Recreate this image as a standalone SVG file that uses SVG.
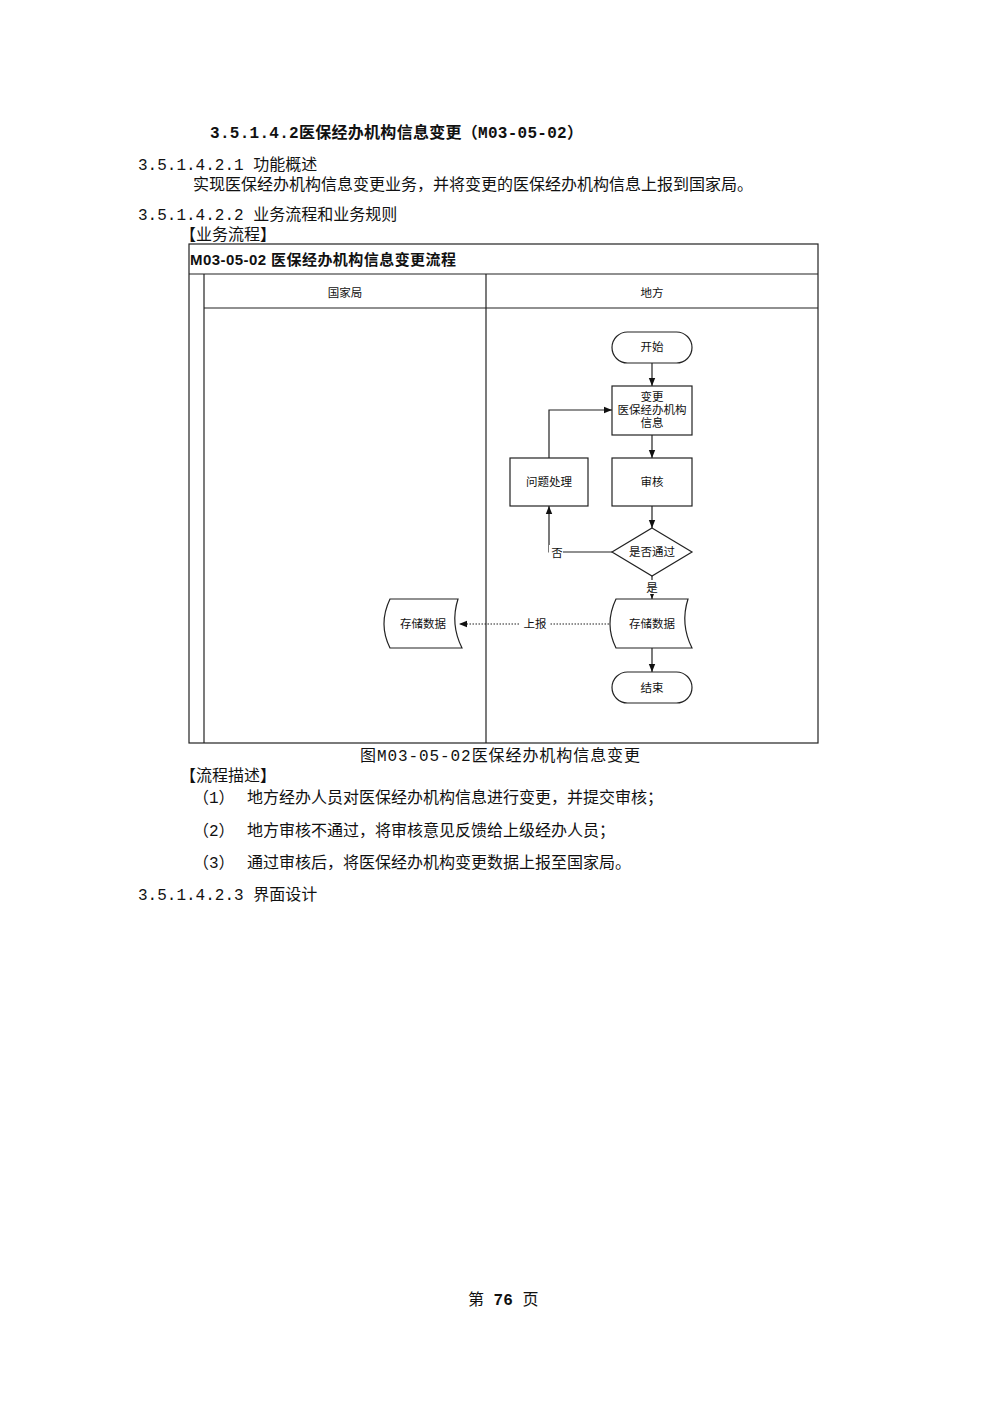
<svg xmlns="http://www.w3.org/2000/svg" width="1000" height="1415" viewBox="0 0 1000 1415">
<defs>
<style>
.t{font-family:"Liberation Mono","Noto Sans CJK SC",monospace;font-size:16px;fill:#111}
.d{font-family:"Liberation Sans","Noto Sans CJK SC",sans-serif;font-size:11.5px;fill:#111;text-anchor:middle}
.s{fill:#fff;stroke:#222;stroke-width:1.2}
.l{fill:none;stroke:#222;stroke-width:1.2}
</style>
<marker id="a" viewBox="0 0 10 10" refX="10" refY="5" markerWidth="7" markerHeight="7" orient="auto"><path d="M0,1 L10,5 L0,9 z" fill="#111"/></marker>
</defs>
<rect width="1000" height="1415" fill="#fff"/>
<text class="t" x="210" y="138" font-weight="bold" textLength="373">3.5.1.4.2医保经办机构信息变更（M03-05-02）</text>
<text class="t" x="138" y="170">3.5.1.4.2.1 功能概述</text>
<text class="t" x="193" y="190">实现医保经办机构信息变更业务，并将变更的医保经办机构信息上报到国家局。</text>
<text class="t" x="138" y="220">3.5.1.4.2.2 业务流程和业务规则</text>
<text class="t" x="180" y="240">【业务流程】</text>
<g id="frame">
<rect x="189" y="244" width="629" height="499" fill="none" stroke="#222" stroke-width="1.2"/>
<line x1="189" y1="274" x2="818" y2="274" stroke="#222" stroke-width="1.2"/>
<line x1="204" y1="308" x2="818" y2="308" stroke="#222" stroke-width="1.2"/>
<line x1="204" y1="274" x2="204" y2="743" stroke="#222" stroke-width="1.2"/>
<line x1="486" y1="274" x2="486" y2="743" stroke="#222" stroke-width="1.2"/>
<text x="190" y="265" font-family="Liberation Sans,'Noto Sans CJK SC',sans-serif" font-size="15" font-weight="bold" fill="#111" textLength="266">M03-05-02 医保经办机构信息变更流程</text>
<text class="d" x="345" y="297" font-size="13">国家局</text>
<text class="d" x="652" y="297" font-size="13">地方</text>
</g>
<g id="connectors">
<line class="l" x1="652" y1="363" x2="652" y2="386" marker-end="url(#a)"/>
<line class="l" x1="652" y1="435" x2="652" y2="458" marker-end="url(#a)"/>
<line class="l" x1="652" y1="506" x2="652" y2="528" marker-end="url(#a)"/>
<polyline class="l" points="612,552 549,552 549,506" marker-end="url(#a)"/>
<polyline class="l" points="549,458 549,410 612,410" marker-end="url(#a)"/>
<line class="l" x1="652" y1="576" x2="652" y2="599" marker-end="url(#a)"/>
<line class="l" x1="652" y1="648" x2="652" y2="672" marker-end="url(#a)"/>
<line class="l" x1="612" y1="624" x2="459" y2="624" stroke-dasharray="1.5,1.5" marker-end="url(#a)"/>
<rect x="520" y="616" width="30" height="15" fill="#fff"/>
<text class="d" x="535" y="628">上报</text>
<rect x="549" y="545" width="14" height="14" fill="#fff"/>
<text class="d" x="557" y="557">否</text>
<rect x="645" y="580" width="14" height="14" fill="#fff"/>
<text class="d" x="652" y="592">是</text>
</g>
<g id="start"><rect class="s" x="612" y="332" width="80" height="31" rx="15.5"/><text class="d" x="652" y="351">开始</text></g>
<g id="change"><rect class="s" x="612" y="386" width="80" height="49"/><text class="d" x="652" y="401">变更</text><text class="d" x="652" y="414">医保经办机构</text><text class="d" x="652" y="427">信息</text></g>
<g id="audit"><rect class="s" x="612" y="458" width="80" height="48"/><text class="d" x="652" y="486">审核</text></g>
<g id="issue"><rect class="s" x="510" y="458" width="78" height="48"/><text class="d" x="549" y="486">问题处理</text></g>
<g id="decision"><polygon class="s" points="652,528 692,552 652,576 612,552"/><text class="d" x="652" y="556">是否通过</text></g>
<g id="store-local"><path class="s" d="M616,599 L688,599 Q680,624 692,648 L616,648 Q604,624 616,599 z"/><text class="d" x="652" y="628">存储数据</text></g>
<g id="store-nat"><path class="s" d="M390,599 L458,599 Q450,624 462,648 L390,648 Q378,624 390,599 z"/><text class="d" x="423" y="628">存储数据</text></g>
<g id="end"><rect class="s" x="612" y="672" width="80" height="31" rx="15.5"/><text class="d" x="652" y="692">结束</text></g>
<text class="t" x="360" y="761" textLength="280">图M03-05-02医保经办机构信息变更</text>
<text class="t" x="180" y="781">【流程描述】</text>
<text class="t" x="193" y="803">（1）</text><text class="t" x="247" y="803">地方经办人员对医保经办机构信息进行变更，并提交审核；</text>
<text class="t" x="193" y="836">（2）</text><text class="t" x="247" y="836">地方审核不通过，将审核意见反馈给上级经办人员；</text>
<text class="t" x="193" y="868">（3）</text><text class="t" x="247" y="868">通过审核后，将医保经办机构变更数据上报至国家局。</text>
<text class="t" x="138" y="900">3.5.1.4.2.3 界面设计</text>
<text class="t" x="468" y="1305" font-size="14">第 <tspan font-weight="bold">76</tspan> 页</text>
</svg>
